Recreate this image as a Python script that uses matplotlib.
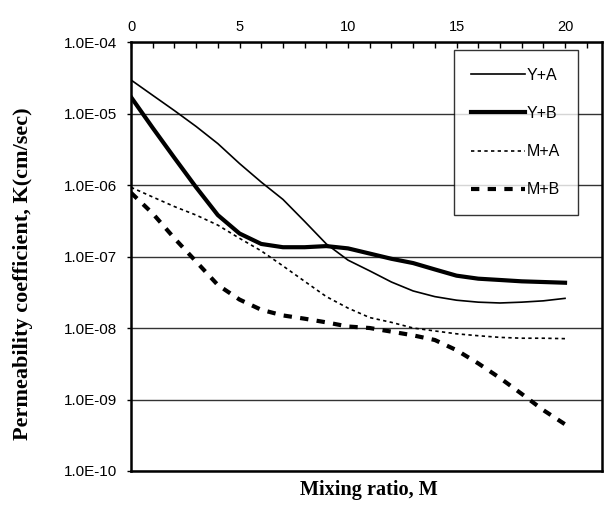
import numpy as np
import matplotlib
matplotlib.use("Agg")
import matplotlib.pyplot as plt
from matplotlib.ticker import MultipleLocator, FixedLocator, FuncFormatter

# mixing ratio M
ratio = np.arange(0, 21)

# permeability coefficient K (cm/sec)
k_ya = [2.95e-5, 1.8e-5, 1.1e-5, 6.6e-6, 3.8e-6, 2.0e-6, 1.1e-6, 6.3e-7, 3.1e-7, 1.5e-7,
        8.9e-8, 6.3e-8, 4.4e-8, 3.3e-8, 2.75e-8, 2.45e-8, 2.3e-8, 2.24e-8, 2.3e-8, 2.4e-8, 2.6e-8]
k_yb = [1.7e-5, 6.3e-6, 2.4e-6, 9.3e-7, 3.8e-7, 2.1e-7, 1.5e-7, 1.35e-7, 1.35e-7, 1.4e-7,
        1.3e-7, 1.1e-7, 9.3e-8, 8.1e-8, 6.6e-8, 5.4e-8, 4.9e-8, 4.7e-8, 4.5e-8, 4.4e-8, 4.3e-8]
k_ma = [9.3e-7, 6.8e-7, 5.0e-7, 3.8e-7, 2.75e-7, 1.8e-7, 1.2e-7, 7.4e-8, 4.5e-8, 2.75e-8,
        1.9e-8, 1.4e-8, 1.2e-8, 1.0e-8, 9.1e-9, 8.3e-9, 7.8e-9, 7.4e-9, 7.2e-9, 7.2e-9, 7.1e-9]
k_mb = [7.8e-7, 4.0e-7, 1.8e-7, 8.5e-8, 4.0e-8, 2.5e-8, 1.8e-8, 1.5e-8, 1.35e-8, 1.2e-8,
        1.05e-8, 1.0e-8, 8.9e-9, 7.9e-9, 6.8e-9, 4.9e-9, 3.2e-9, 2.0e-9, 1.2e-9, 7.1e-10, 4.5e-10]

ytick_vals = [1e-4, 1e-5, 1e-6, 1e-7, 1e-8, 1e-9, 1e-10]

fig = plt.figure(figsize=(6.08, 5.17), dpi=100)
ax = fig.add_axes([0.2155, 0.089, 0.7745, 0.8296])

ax.plot(ratio, k_ya, color="black", lw=1.2, label="Y+A")
ax.plot(ratio, k_yb, color="black", lw=3.0, label="Y+B")
ax.plot(ratio, k_ma, color="black", lw=1.2, ls=(0, (2, 2)), label="M+A")
ax.plot(ratio, k_mb, color="black", lw=3.0, ls=(0, (2, 2)), label="M+B")

ax.set_yscale("log")
ax.set_ylim(1e-10, 1e-4)
ax.set_xlim(0, 21.7)

ax.yaxis.set_major_locator(FixedLocator(ytick_vals))
ax.yaxis.set_minor_locator(FixedLocator([]))
ax.yaxis.set_major_formatter(FuncFormatter(
    lambda v, p: "1.0E%+03d" % int(round(np.log10(v))) if v > 0 else ""))
ax.grid(axis="y", color="#333333", lw=1.0)
ax.set_axisbelow(True)

ax.xaxis.tick_top()
ax.xaxis.set_major_locator(FixedLocator([0, 5, 10, 15, 20]))
ax.xaxis.set_minor_locator(MultipleLocator(1))
ax.tick_params(axis="x", which="both", direction="in", length=4, width=1,
               labelsize=10.5, pad=6)
ax.tick_params(axis="y", which="major", direction="out", length=3, width=1,
               labelsize=11, pad=7)
for lab in ax.get_xticklabels() + ax.get_yticklabels():
    lab.set_fontfamily("Liberation Sans")

for s in ax.spines.values():
    s.set_linewidth(1.8)
    s.set_color("black")

ax.set_ylabel("Permeability coefficient, K(cm/sec)", family="Liberation Serif",
              fontweight="bold", fontsize=16)
ax.yaxis.set_label_coords(-0.208, 0.46)
fig.text(0.606, 0.052, "Mixing ratio, M", family="Liberation Serif",
         fontweight="bold", fontsize=14.6, ha="center", va="center")

leg = ax.legend(loc="upper right", bbox_to_anchor=(0.949, 0.981), frameon=True,
                fancybox=False, edgecolor="black", handlelength=3.4,
                handletextpad=0.1, labelspacing=1.45, borderpad=1.1,
                borderaxespad=0, prop={"family": "Liberation Sans", "size": 11.5})
leg.get_frame().set_linewidth(1.0)

fig.savefig("out.png", dpi=100)
